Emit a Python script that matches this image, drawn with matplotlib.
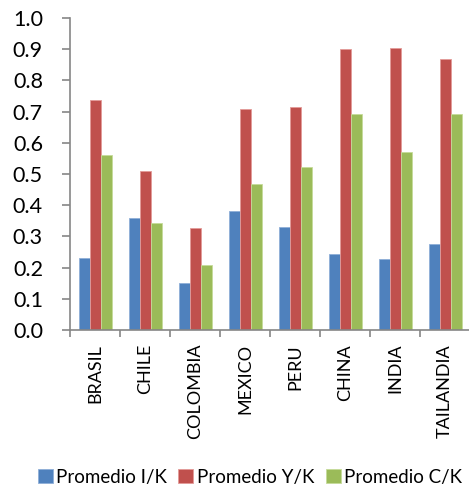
import matplotlib.pyplot as plt
import numpy as np

# Country averages of investment, output and consumption over capital
paises = ["BRASIL", "CHILE", "COLOMBIA", "MEXICO", "PERU", "CHINA", "INDIA", "TAILANDIA"]
prom_ik = [0.232, 0.359, 0.151, 0.381, 0.330, 0.244, 0.227, 0.275]
prom_yk = [0.736, 0.511, 0.328, 0.707, 0.714, 0.900, 0.903, 0.868]
prom_ck = [0.562, 0.343, 0.209, 0.469, 0.522, 0.693, 0.571, 0.691]
etiquetas = ["Promedio I/K", "Promedio Y/K", "Promedio C/K"]

plt.rcParams['font.family'] = ['Lato', 'DejaVu Sans']

fig = plt.figure(figsize=(4.69, 4.91), dpi=100)
ax = fig.add_axes([70 / 469, 1 - 330 / 491, 400 / 469, 312 / 491])

x = np.arange(len(paises))
w = 0.22
series = [prom_ik, prom_yk, prom_ck]
colores = ["#4F81BD", "#C0504D", "#9BBB59"]
bordes = ["#8FAFD8", "#E39A98", "#C6DB9A"]
for i, (vals, c, b, lab) in enumerate(zip(series, colores, bordes, etiquetas)):
    ax.bar(x + (i - 1) * w, vals, w, color=c, edgecolor=b, linewidth=0.6, label=lab)

ax.set_xlim(-0.5, len(paises) - 0.5)
ax.set_ylim(0, 1.0)
ax.set_yticks(np.arange(0, 1.01, 0.1))
ax.set_yticklabels([f"{v:.1f}" for v in np.arange(0, 1.01, 0.1)], fontsize=15.5)

ax.set_xticks(x)
ax.set_xticklabels(paises, rotation=90, fontsize=13)
ax.set_xticks(np.arange(-0.5, len(paises)), minor=True)
ax.tick_params(axis='x', which='major', length=0, pad=10)
ax.tick_params(axis='x', which='minor', length=5, width=1.2, color="#868686")
ax.tick_params(axis='y', length=6, width=1.2, color="#868686", pad=13.5)

for s in ["top", "right"]:
    ax.spines[s].set_visible(False)
for s in ["left", "bottom"]:
    ax.spines[s].set_color("#868686")
    ax.spines[s].set_linewidth(1.2)

fig.legend(loc="center", bbox_to_anchor=(250 / 469, 1 - 477 / 491), ncol=3,
           frameon=False, fontsize=13.5, handlelength=0.8, handleheight=0.8,
           handletextpad=0.2, columnspacing=0.6, borderpad=0.1)

fig.savefig("out.png", dpi=100)
